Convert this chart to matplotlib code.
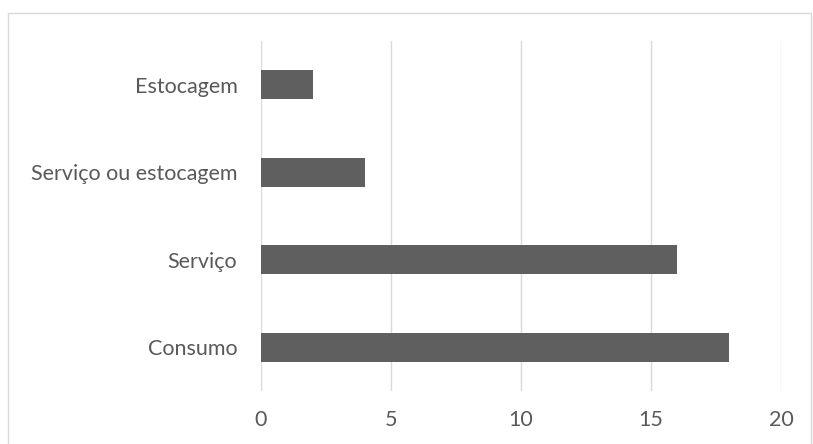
import matplotlib.pyplot as plt
import matplotlib.patches as mpatches

categorias = ['Consumo', 'Serviço', 'Serviço ou estocagem', 'Estocagem']
valores = [18, 16, 4, 2]
ticks_x = [0, 5, 10, 15, 20]

plt.rcParams['font.family'] = ['Lato', 'DejaVu Sans']

fig = plt.figure(figsize=(8.13, 4.44), dpi=100)
# eixo: x de 261 a 781 px, y de 41 a 391 px
ax = fig.add_axes([261 / 813, 1 - 391 / 444, 520 / 813, 350 / 444])

ax.barh(range(len(categorias)), valores, height=0.33, color='#5f5f5f', zorder=3)

ax.set_xlim(0, 20)
ax.set_ylim(-0.5, len(categorias) - 0.5)
ax.set_xticks(ticks_x)
ax.set_yticks(range(len(categorias)))
ax.set_yticklabels(categorias)
ax.xaxis.grid(True, color='#d9d9d9', linewidth=1, zorder=0)
ax.set_axisbelow(True)
for s in ax.spines.values():
    s.set_visible(False)
ax.tick_params(axis='both', length=0, labelsize=15.5, colors='#595959')
ax.tick_params(axis='x', pad=14)
ax.tick_params(axis='y', pad=17)

# moldura externa
fig.patches.append(mpatches.Rectangle((8 / 813, -0.01), 803 / 813, 1 - 13 / 444 + 0.01,
                                      transform=fig.transFigure, fill=False,
                                      edgecolor='#d9d9d9', linewidth=1))

fig.savefig('out.png', dpi=100)
